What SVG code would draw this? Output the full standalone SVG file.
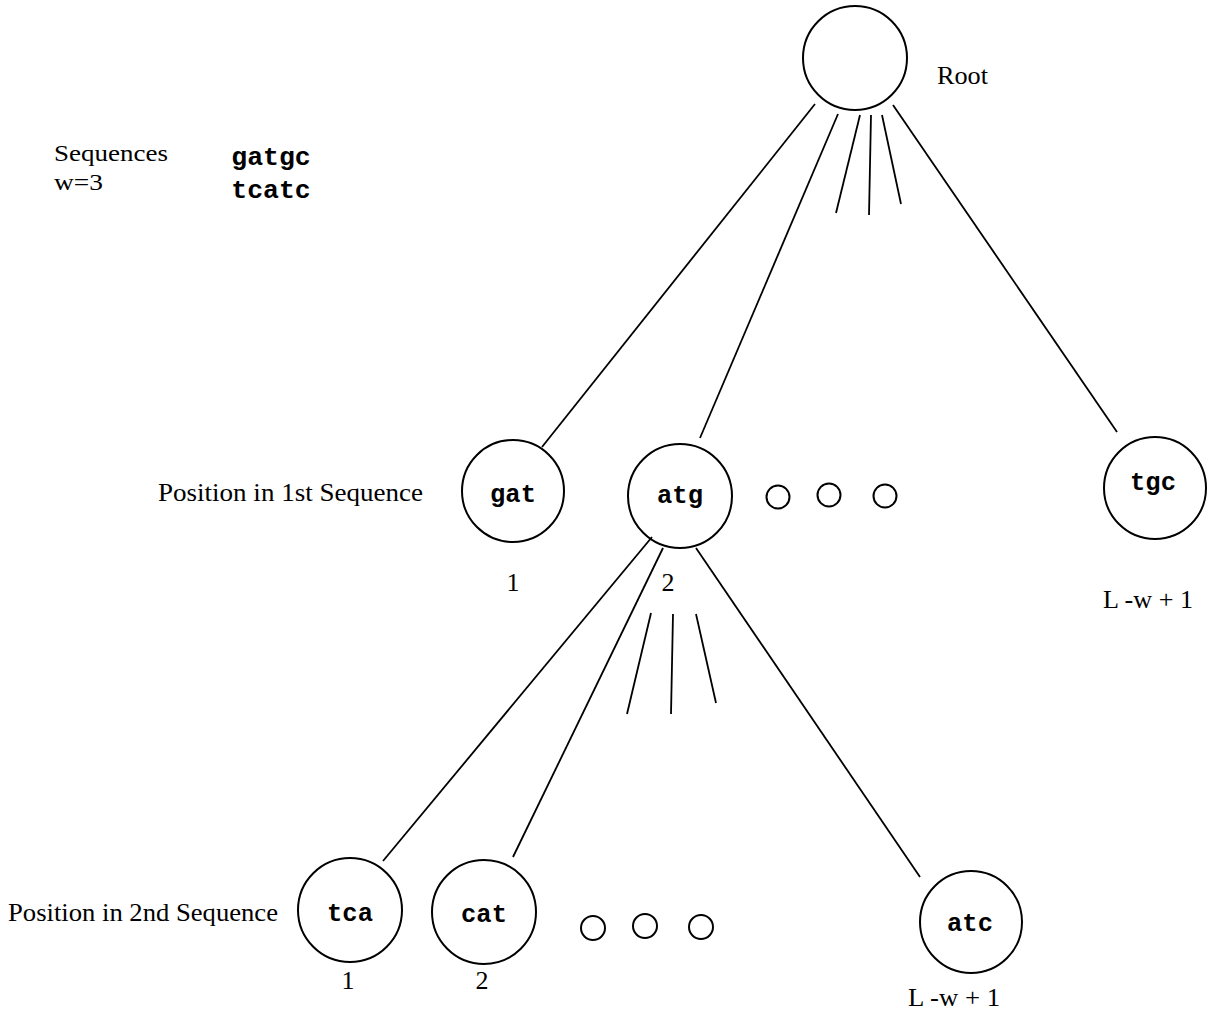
<svg xmlns="http://www.w3.org/2000/svg" width="1217" height="1012" viewBox="0 0 1217 1012">
<style>
.n{fill:none;stroke:#000;stroke-width:2}
.e{stroke:#000;stroke-width:1.8;fill:none}
.lbl{font-family:"Liberation Serif",serif;font-size:26px;fill:#000}
.code{font-family:"Liberation Mono",monospace;font-weight:bold;font-size:25.5px;fill:#000;text-anchor:middle}
.num{font-family:"Liberation Serif",serif;font-size:26px;fill:#000;text-anchor:middle}
</style>
<rect width="1217" height="1012" fill="#fff"/>
<g id="connectors">
<line class="e" x1="815" y1="104" x2="542" y2="447"/>
<line class="e" x1="838" y1="114" x2="700" y2="438"/>
<line class="e" x1="860" y1="115" x2="836" y2="213"/>
<line class="e" x1="871" y1="115" x2="869" y2="215"/>
<line class="e" x1="882" y1="115" x2="901" y2="204"/>
<line class="e" x1="893" y1="105" x2="1117" y2="432"/>
<line class="e" x1="652" y1="537" x2="383" y2="861"/>
<line class="e" x1="663" y1="548" x2="513" y2="857"/>
<line class="e" x1="696" y1="548" x2="920" y2="877"/>
<line class="e" x1="651" y1="613" x2="627" y2="714"/>
<line class="e" x1="673" y1="614" x2="671" y2="714"/>
<line class="e" x1="696" y1="614" x2="716" y2="703"/>
</g>
<g id="root"><circle class="n" cx="855" cy="58" r="52"/><text class="lbl" x="937" y="84" textLength="51" lengthAdjust="spacingAndGlyphs">Root</text></g>
<g id="legend">
<text class="lbl" x="54" y="161" style="font-size:24px" textLength="114" lengthAdjust="spacingAndGlyphs">Sequences</text>
<text class="lbl" x="54" y="190" style="font-size:24px" textLength="49" lengthAdjust="spacingAndGlyphs">w=3</text>
<text class="code" x="271" y="165" style="font-size:26.5px">gatgc</text>
<text class="code" x="271" y="198" style="font-size:26.5px">tcatc</text>
</g>
<g id="row1-label"><text class="lbl" x="158" y="501" textLength="265" lengthAdjust="spacingAndGlyphs">Position in 1st Sequence</text></g>
<g id="row2-label"><text class="lbl" x="8" y="921" textLength="270" lengthAdjust="spacingAndGlyphs">Position in 2nd Sequence</text></g>
<g id="gat"><circle class="n" cx="513" cy="491" r="51"/><text class="code" x="513" y="502">gat</text><text class="num" x="513" y="591">1</text></g>
<g id="atg"><circle class="n" cx="680" cy="496" r="52"/><text class="code" x="680" y="503">atg</text><text class="num" x="668" y="591">2</text></g>
<g id="dots1">
<circle class="n" cx="778" cy="497" r="11.5"/>
<circle class="n" cx="829" cy="495" r="11.5"/>
<circle class="n" cx="885" cy="496" r="11.5"/>
</g>
<g id="tgc"><circle class="n" cx="1155" cy="488" r="51"/><text class="code" x="1153" y="490">tgc</text><text class="lbl" x="1103" y="608" textLength="90" lengthAdjust="spacingAndGlyphs">L -w + 1</text></g>
<g id="tca"><circle class="n" cx="350" cy="910" r="52"/><text class="code" x="350" y="921">tca</text><text class="num" x="348" y="989">1</text></g>
<g id="cat"><circle class="n" cx="484" cy="912" r="52"/><text class="code" x="484" y="922">cat</text><text class="num" x="482" y="989">2</text></g>
<g id="dots2">
<circle class="n" cx="593" cy="928" r="12"/>
<circle class="n" cx="645" cy="926" r="12"/>
<circle class="n" cx="701" cy="927" r="12"/>
</g>
<g id="atc"><circle class="n" cx="971" cy="922" r="51"/><text class="code" x="970" y="931">atc</text><text class="lbl" x="908" y="1006" textLength="92" lengthAdjust="spacingAndGlyphs">L -w + 1</text></g>
</svg>
